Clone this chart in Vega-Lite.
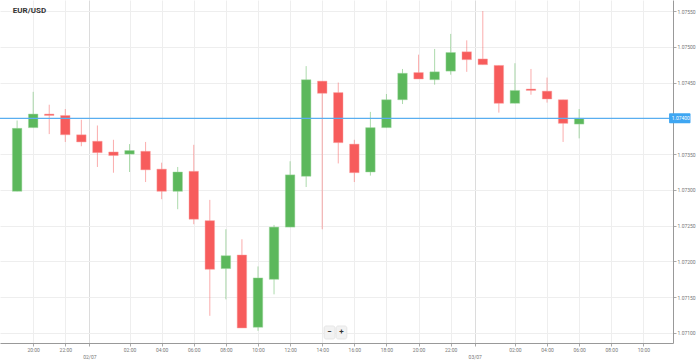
{
  "$schema": "https://vega.github.io/schema/vega-lite/v6.json",
  "width": 673,
  "height": 343,
  "autosize": {"type": "none"},
  "padding": {"left": 0, "top": 0, "right": 24, "bottom": 20},
  "background": "white",
  "config": {"view": {"stroke": null}, "font": "Roboto"},
  "data": {"values": [
    {"time": "2019-07-01T19:00:00Z", "open": 1.07298, "high": 1.07397, "low": 1.07298, "close": 1.07386},
    {"time": "2019-07-01T20:00:00Z", "open": 1.07387, "high": 1.07437, "low": 1.07387, "close": 1.07406},
    {"time": "2019-07-01T21:00:00Z", "open": 1.07406, "high": 1.07419, "low": 1.07378, "close": 1.07404},
    {"time": "2019-07-01T22:00:00Z", "open": 1.07404, "high": 1.07413, "low": 1.07367, "close": 1.07377},
    {"time": "2019-07-01T23:00:00Z", "open": 1.07377, "high": 1.07398, "low": 1.07361, "close": 1.07367},
    {"time": "2019-07-02T00:00:00Z", "open": 1.07368, "high": 1.07390, "low": 1.07332, "close": 1.07352},
    {"time": "2019-07-02T01:00:00Z", "open": 1.07353, "high": 1.07370, "low": 1.07324, "close": 1.07348},
    {"time": "2019-07-02T02:00:00Z", "open": 1.07350, "high": 1.07364, "low": 1.07325, "close": 1.07355},
    {"time": "2019-07-02T03:00:00Z", "open": 1.07354, "high": 1.07367, "low": 1.07311, "close": 1.07328},
    {"time": "2019-07-02T04:00:00Z", "open": 1.07329, "high": 1.07338, "low": 1.07287, "close": 1.07298},
    {"time": "2019-07-02T05:00:00Z", "open": 1.07298, "high": 1.07332, "low": 1.07273, "close": 1.07325},
    {"time": "2019-07-02T06:00:00Z", "open": 1.07326, "high": 1.07363, "low": 1.07252, "close": 1.07259},
    {"time": "2019-07-02T07:00:00Z", "open": 1.07257, "high": 1.07286, "low": 1.07124, "close": 1.07189},
    {"time": "2019-07-02T08:00:00Z", "open": 1.07190, "high": 1.07245, "low": 1.07147, "close": 1.07208},
    {"time": "2019-07-02T09:00:00Z", "open": 1.07209, "high": 1.07231, "low": 1.07107, "close": 1.07107},
    {"time": "2019-07-02T10:00:00Z", "open": 1.07108, "high": 1.07193, "low": 1.07103, "close": 1.07177},
    {"time": "2019-07-02T11:00:00Z", "open": 1.07175, "high": 1.07251, "low": 1.07154, "close": 1.07248},
    {"time": "2019-07-02T12:00:00Z", "open": 1.07248, "high": 1.07340, "low": 1.07248, "close": 1.07321},
    {"time": "2019-07-02T13:00:00Z", "open": 1.07319, "high": 1.07473, "low": 1.07304, "close": 1.07454},
    {"time": "2019-07-02T14:00:00Z", "open": 1.07452, "high": 1.07452, "low": 1.07245, "close": 1.07435},
    {"time": "2019-07-02T15:00:00Z", "open": 1.07436, "high": 1.07450, "low": 1.07337, "close": 1.07366},
    {"time": "2019-07-02T16:00:00Z", "open": 1.07364, "high": 1.07370, "low": 1.07311, "close": 1.07324},
    {"time": "2019-07-02T17:00:00Z", "open": 1.07325, "high": 1.07409, "low": 1.07320, "close": 1.07387},
    {"time": "2019-07-02T18:00:00Z", "open": 1.07387, "high": 1.07434, "low": 1.07387, "close": 1.07426},
    {"time": "2019-07-02T19:00:00Z", "open": 1.07426, "high": 1.07469, "low": 1.07420, "close": 1.07463},
    {"time": "2019-07-02T20:00:00Z", "open": 1.07464, "high": 1.07489, "low": 1.07455, "close": 1.07455},
    {"time": "2019-07-02T21:00:00Z", "open": 1.07454, "high": 1.07497, "low": 1.07447, "close": 1.07465},
    {"time": "2019-07-02T22:00:00Z", "open": 1.07466, "high": 1.07518, "low": 1.07461, "close": 1.07492},
    {"time": "2019-07-02T23:00:00Z", "open": 1.07493, "high": 1.07509, "low": 1.07465, "close": 1.07482},
    {"time": "2019-07-03T00:00:00Z", "open": 1.07483, "high": 1.07550, "low": 1.07475, "close": 1.07475},
    {"time": "2019-07-03T01:00:00Z", "open": 1.07474, "high": 1.07474, "low": 1.07408, "close": 1.07421},
    {"time": "2019-07-03T02:00:00Z", "open": 1.07421, "high": 1.07477, "low": 1.07421, "close": 1.07439},
    {"time": "2019-07-03T03:00:00Z", "open": 1.07441, "high": 1.07469, "low": 1.07433, "close": 1.07439},
    {"time": "2019-07-03T04:00:00Z", "open": 1.07438, "high": 1.07457, "low": 1.07422, "close": 1.07427},
    {"time": "2019-07-03T05:00:00Z", "open": 1.07426, "high": 1.07426, "low": 1.07367, "close": 1.07393},
    {"time": "2019-07-03T06:00:00Z", "open": 1.07392, "high": 1.07413, "low": 1.07372, "close": 1.07400}
  ]},
  "layer": [
    {
      "mark": {"type": "rule", "strokeWidth": 1, "opacity": 0.5},
      "encoding": {
        "x": {
          "field": "time", "type": "temporal",
          "scale": {"type": "utc", "domain": [
            {"year": 2019, "month": 7, "date": 1, "hours": 18, "minutes": 14, "seconds": 43, "utc": true},
            {"year": 2019, "month": 7, "date": 3, "hours": 11, "minutes": 32, "utc": true}
          ]},
          "axis": {
            "orient": "bottom", "title": null, "grid": true, "tickCount": 60,
            "values": [
              {"year": 2019, "month": 7, "date": 1, "hours": 20, "utc": true},
              {"year": 2019, "month": 7, "date": 1, "hours": 22, "utc": true},
              {"year": 2019, "month": 7, "date": 1, "hours": 23, "minutes": 30, "utc": true},
              {"year": 2019, "month": 7, "date": 2, "hours": 2, "utc": true},
              {"year": 2019, "month": 7, "date": 2, "hours": 4, "utc": true},
              {"year": 2019, "month": 7, "date": 2, "hours": 6, "utc": true},
              {"year": 2019, "month": 7, "date": 2, "hours": 8, "utc": true},
              {"year": 2019, "month": 7, "date": 2, "hours": 10, "utc": true},
              {"year": 2019, "month": 7, "date": 2, "hours": 12, "utc": true},
              {"year": 2019, "month": 7, "date": 2, "hours": 14, "utc": true},
              {"year": 2019, "month": 7, "date": 2, "hours": 16, "utc": true},
              {"year": 2019, "month": 7, "date": 2, "hours": 18, "utc": true},
              {"year": 2019, "month": 7, "date": 2, "hours": 20, "utc": true},
              {"year": 2019, "month": 7, "date": 2, "hours": 22, "utc": true},
              {"year": 2019, "month": 7, "date": 2, "hours": 23, "minutes": 30, "utc": true},
              {"year": 2019, "month": 7, "date": 3, "hours": 2, "utc": true},
              {"year": 2019, "month": 7, "date": 3, "hours": 4, "utc": true},
              {"year": 2019, "month": 7, "date": 3, "hours": 6, "utc": true},
              {"year": 2019, "month": 7, "date": 3, "hours": 8, "utc": true},
              {"year": 2019, "month": 7, "date": 3, "hours": 10, "utc": true}
            ],
            "labelExpr": "utcminutes(datum.value) == 30 ? ['', utcFormat(time(datum.value) + 1800000, '%d/%m')] : utcFormat(datum.value, '%H:%M')",
            "labelFontSize": 5, "labelColor": "#777", "labelPadding": 1, "labelLineHeight": 7,
            "labelBaseline": "top", "labelAngle": 0, "labelOverlap": false, "labelFlush": false, "labelSeparation": 0,
            "tickSize": 3, "tickColor": "#aaa", "domainColor": "#999",
            "gridColor": {"condition": {"test": "utcminutes(datum.value) == 30", "value": "#dcdcdc"}, "value": "#eeeeee"}
          }
        },
        "y": {
          "field": "low", "type": "quantitative",
          "scale": {"domain": [1.07086, 1.075654], "zero": false, "nice": false},
          "axis": {
            "orient": "right", "title": null, "tickCount": 30,
            "values": [1.071, 1.0715, 1.072, 1.0725, 1.073, 1.0735, 1.0745, 1.075, 1.0755],
            "format": ".5f", "labelFontSize": 5, "labelColor": "#777", "labelPadding": 1,
            "labelOverlap": false, "labelFlush": false,
            "tickSize": 3, "tickColor": "#aaa", "domainColor": "#999", "gridColor": "#eeeeee"
          }
        },
        "y2": {"field": "high"},
        "color": {"condition": {"test": "datum.close >= datum.open", "value": "#5cb85c"}, "value": "#f75c5c"}
      }
    },
    {
      "mark": {"type": "bar", "size": 9.5, "strokeWidth": 1, "strokeOpacity": 0.45},
      "encoding": {
        "x": {"field": "time", "type": "temporal"},
        "y": {"field": "open", "type": "quantitative"},
        "y2": {"field": "close"},
        "color": {"condition": {"test": "datum.close >= datum.open", "value": "#5cb85c"}, "value": "#f75c5c"},
        "stroke": {"condition": {"test": "datum.close >= datum.open", "value": "#9fd89f"}, "value": "#fba5a5"}
      }
    },
    {
      "data": {"values": [{}]},
      "mark": {"type": "rule", "color": "#5aaef0", "strokeWidth": 1.2},
      "encoding": {"y": {"datum": 1.074, "type": "quantitative"}}
    },
    {
      "data": {"values": [{}]},
      "mark": {"type": "rect", "color": "#3ea6f2", "cornerRadius": 1},
      "encoding": {
        "x": {"datum": {"year": 2019, "month": 7, "date": 3, "hours": 11, "minutes": 36, "utc": true}, "type": "temporal"},
        "x2": {"datum": {"year": 2019, "month": 7, "date": 3, "hours": 12, "minutes": 56, "utc": true}},
        "y": {"datum": 1.07407, "type": "quantitative"},
        "y2": {"datum": 1.07393}
      }
    },
    {
      "data": {"values": [{}]},
      "mark": {"type": "text", "text": "1.07400", "align": "left", "baseline": "middle", "color": "white", "fontSize": 5},
      "encoding": {
        "x": {"datum": {"year": 2019, "month": 7, "date": 3, "hours": 11, "minutes": 46, "utc": true}, "type": "temporal"},
        "y": {"datum": 1.074, "type": "quantitative"}
      }
    },
    {
      "data": {"values": [{}]},
      "mark": {"type": "rect", "fill": "#f2f2f2", "stroke": "#e2e2e2", "strokeWidth": 0.8, "cornerRadius": 2},
      "encoding": {
        "x": {"datum": {"year": 2019, "month": 7, "date": 2, "hours": 14, "minutes": 7, "utc": true}, "type": "temporal"},
        "x2": {"datum": {"year": 2019, "month": 7, "date": 2, "hours": 14, "minutes": 48, "utc": true}},
        "y": {"datum": 1.071098, "type": "quantitative"},
        "y2": {"datum": 1.070916}
      }
    },
    {
      "data": {"values": [{}]},
      "mark": {"type": "rect", "fill": "#f2f2f2", "stroke": "#e2e2e2", "strokeWidth": 0.8, "cornerRadius": 2},
      "encoding": {
        "x": {"datum": {"year": 2019, "month": 7, "date": 2, "hours": 14, "minutes": 52, "utc": true}, "type": "temporal"},
        "x2": {"datum": {"year": 2019, "month": 7, "date": 2, "hours": 15, "minutes": 32, "utc": true}},
        "y": {"datum": 1.071098, "type": "quantitative"},
        "y2": {"datum": 1.070916}
      }
    },
    {
      "data": {"values": [{}]},
      "mark": {"type": "text", "text": "−", "align": "center", "baseline": "middle", "color": "#333", "fontSize": 8, "fontWeight": "bold"},
      "encoding": {
        "x": {"datum": {"year": 2019, "month": 7, "date": 2, "hours": 14, "minutes": 27, "utc": true}, "type": "temporal"},
        "y": {"datum": 1.071007, "type": "quantitative"}
      }
    },
    {
      "data": {"values": [{}]},
      "mark": {"type": "text", "text": "+", "align": "center", "baseline": "middle", "color": "#333", "fontSize": 8, "fontWeight": "bold"},
      "encoding": {
        "x": {"datum": {"year": 2019, "month": 7, "date": 2, "hours": 15, "minutes": 12, "utc": true}, "type": "temporal"},
        "y": {"datum": 1.071007, "type": "quantitative"}
      }
    },
    {
      "data": {"values": [{}]},
      "mark": {"type": "text", "text": "EUR/USD", "align": "left", "baseline": "middle", "color": "#333", "fontSize": 8, "fontWeight": "bold"},
      "encoding": {
        "x": {"datum": {"year": 2019, "month": 7, "date": 1, "hours": 18, "minutes": 44, "utc": true}, "type": "temporal"},
        "y": {"datum": 1.0755, "type": "quantitative"}
      }
    }
  ]
}
